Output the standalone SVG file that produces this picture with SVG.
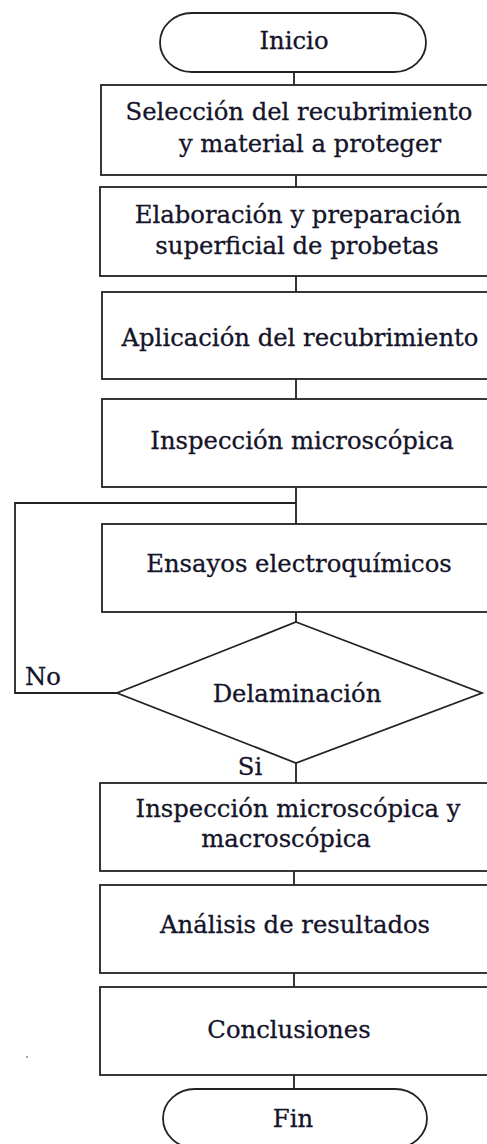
<svg xmlns="http://www.w3.org/2000/svg" width="487" height="1144" viewBox="0 0 487 1144">
<style>
.s{fill:#fff;stroke:#222;stroke-width:1.8}
.c{fill:none;stroke:#222;stroke-width:1.8}
text{font-family:"DejaVu Serif","Liberation Serif",serif;font-size:24.3px;fill:#14142a;stroke:#14142a;stroke-width:0.3;text-anchor:middle}
</style>
<rect width="487" height="1144" fill="#fff"/>
<g id="connectors">
<path class="c" d="M294 72V85M296 175V187M296 276V292M296 379V399M296 487V524M296 503H15V693H117M296 612V622M296 763V783M294 871V885M294 973V987M294 1075V1089"/>
</g>
<g id="inicio"><rect class="s" x="160" y="13" width="266" height="59" rx="32" ry="29.5"/><text x="294" y="49">Inicio</text></g>
<g id="seleccion"><rect class="s" x="101" y="85" width="392" height="90"/><text x="299" y="120">Selección del recubrimiento</text><text x="310" y="152">y material a proteger</text></g>
<g id="elaboracion"><rect class="s" x="100" y="187" width="393" height="89"/><text x="298" y="223">Elaboración y preparación</text><text x="297" y="254">superficial de probetas</text></g>
<g id="aplicacion"><rect class="s" x="102" y="292" width="391" height="87"/><text x="300" y="346">Aplicación del recubrimiento</text></g>
<g id="inspeccion1"><rect class="s" x="102" y="399" width="391" height="88"/><text x="302" y="449">Inspección microscópica</text></g>
<g id="ensayos"><rect class="s" x="102" y="524" width="391" height="88"/><text x="299" y="572">Ensayos electroquímicos</text></g>
<g id="delaminacion"><polygon class="s" points="296,622 482,693 296,763 117,693"/><text x="297" y="702">Delaminación</text></g>
<g id="labels"><text x="43" y="685">No</text><text x="250" y="775">Si</text></g>
<g id="inspeccion2"><rect class="s" x="100" y="783" width="393" height="88"/><text x="298" y="817">Inspección microscópica y</text><text x="286" y="847">macroscópica</text></g>
<g id="analisis"><rect class="s" x="100" y="885" width="393" height="88"/><text x="295" y="933">Análisis de resultados</text></g>
<g id="conclusiones"><rect class="s" x="100" y="987" width="393" height="88"/><text x="289" y="1038">Conclusiones</text></g>
<g id="fin"><rect class="s" x="163" y="1089" width="264" height="59" rx="32" ry="29.5"/><text x="293" y="1127">Fin</text></g>
<circle cx="27" cy="1057" r="0.8" fill="#333"/>
</svg>
